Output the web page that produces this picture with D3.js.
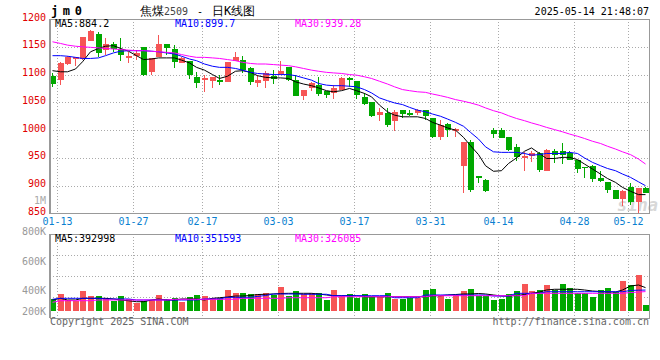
<!DOCTYPE html>
<html><head><meta charset="utf-8">
<script src="https://cdn.jsdelivr.net/npm/d3@7"></script>
<style>body{margin:0;background:#fff}svg{display:block}text{font-family:"DejaVu Sans Mono",monospace}</style>
</head><body><svg id="c" width="660" height="360"></svg>
<script>
const dates = ["01-10","01-13","01-14","01-15","01-16","01-17","01-20","01-21","01-22","01-23","01-24","01-27","02-05","02-06","02-07","02-10","02-11","02-12","02-13","02-14","02-17","02-18","02-19","02-20","02-21","02-24","02-25","02-26","02-27","02-28","03-03","03-04","03-05","03-06","03-07","03-10","03-11","03-12","03-13","03-14","03-17","03-18","03-19","03-20","03-21","03-24","03-25","03-26","03-27","03-28","03-31","04-01","04-02","04-03","04-07","04-08","04-09","04-10","04-11","04-14","04-15","04-16","04-17","04-18","04-21","04-22","04-23","04-24","04-25","04-28","04-29","04-30","05-06","05-07","05-08","05-09","05-12","05-13","05-14"];
const open = [1097,1090,1119,1128,1127,1161,1173,1145,1155,1146,1130,1132,1150,1103,1132,1155,1146,1121,1124,1096,1091,1089,1091,1087,1124,1126,1111,1086,1087,1098,1100,1114,1091,1062,1076,1081,1070,1066,1072,1093,1088,1060,1051,1028,1030,1015,1036,1030,1030,1036,1022,988,1011,999,935,979,917,910,1000,1000,987,970,951,953,958,928,963,963,959,946,934,935,913,907,892,876,897,870,895];
const high = [1103,1122,1133,1132,1168,1181,1176,1165,1159,1165,1141,1145,1150,1129,1171,1155,1153,1132,1124,1105,1099,1096,1099,1123,1141,1133,1114,1099,1106,1108,1125,1114,1099,1072,1086,1096,1070,1081,1096,1096,1088,1067,1051,1039,1039,1036,1037,1036,1038,1037,1022,1018,1012,1004,979,983,918,912,1003,1004,987,975,961,962,960,966,966,977,962,946,934,938,926,907,892,892,905,895,898];
const low = [1078,1081,1117,1115,1127,1160,1132,1135,1141,1125,1120,1127,1097,1100,1132,1135,1111,1121,1092,1076,1069,1075,1081,1087,1124,1102,1081,1078,1076,1083,1100,1088,1062,1055,1071,1062,1058,1056,1072,1077,1056,1045,1023,1016,1006,999,1021,1025,1027,1019,985,982,987,987,886,888,905,888,985,985,962,945,927,943,924,928,940,939,946,922,913,906,907,886,876,864,865,851,886];
const close = [1083,1121,1131,1131,1167,1179,1139,1155,1146,1135,1133,1138,1099,1129,1155,1148,1123,1130,1099,1085,1094,1096,1087,1123,1132,1108,1085,1091,1102,1093,1106,1091,1062,1072,1085,1064,1062,1075,1094,1090,1062,1048,1026,1033,1009,1032,1028,1026,1036,1025,987,1009,1000,1002,979,893,914,891,992,985,964,952,954,958,927,965,955,955,947,930,932,911,907,892,876,891,870,895,886];
const ma5 = [1107,1105,1105,1110,1123,1141,1147,1151,1152,1147,1142,1134,1127,1128,1130,1130,1130,1126,1121,1113,1108,1100,1093,1097,1106,1107,1104,1098,1095,1094,1094,1093,1087,1083,1080,1076,1071,1069,1071,1075,1071,1066,1060,1045,1033,1027,1024,1024,1024,1021,1014,1009,1004,1000,987,972,956,936,926,927,940,950,962,968,958,949,949,951,951,947,939,930,921,913,906,897,890,884,884];
const ma10 = [1134,1134,1133,1131,1129,1129,1130,1134,1139,1142,1143,1143,1143,1142,1141,1139,1137,1133,1128,1125,1119,1115,1113,1113,1111,1108,1104,1102,1101,1100,1100,1100,1098,1094,1090,1084,1081,1080,1080,1079,1078,1073,1067,1058,1053,1049,1046,1041,1036,1033,1029,1025,1020,1014,1007,996,984,970,961,960,960,960,958,955,956,958,958,958,960,958,950,942,936,931,927,921,915,907,900];
const ma30 = [1159,1156,1153,1151,1150,1149,1148,1147,1146,1145,1144,1143,1143,1142,1141,1140,1139,1136,1133,1131,1131,1130,1129,1127,1125,1122,1120,1119,1119,1118,1117,1116,1114,1111,1108,1106,1104,1103,1102,1100,1099,1096,1093,1088,1083,1078,1073,1071,1069,1068,1065,1062,1059,1055,1052,1049,1045,1040,1035,1031,1026,1021,1017,1013,1009,1005,1001,997,993,989,985,980,976,971,966,961,956,948,939];
const volume = [197,286,185,173,336,252,252,213,168,252,197,139,173,185,269,197,223,156,240,269,252,223,213,353,307,307,286,281,307,269,408,252,336,281,307,307,185,353,257,286,223,286,240,230,307,202,202,213,213,353,370,257,202,269,336,370,257,252,185,202,286,336,454,336,353,437,353,454,391,307,297,240,353,391,324,504,437,605,101].map(v=>v*1000);
const vma5 = [185,213,185,185,213,213,213,213,202,185,173,156,156,185,202,185,185,202,202,202,185,213,223,235,252,252,260,277,281,286,294,297,297,297,297,286,269,257,257,257,257,240,240,240,240,240,240,240,240,240,257,257,269,277,286,286,294,286,269,252,252,260,277,297,319,353,365,365,365,365,353,336,328,319,319,353,420,437,393].map(v=>v*1000);
const vma10 = [197,213,213,213,213,213,213,202,202,202,202,185,185,185,185,185,185,185,185,185,202,202,202,230,230,230,230,245,260,286,286,286,286,281,281,281,281,257,257,257,257,257,257,257,257,223,223,223,223,269,269,269,269,269,269,269,269,269,252,252,252,297,297,297,297,324,324,324,324,324,324,324,324,324,324,324,345,350,352].map(v=>v*1000);
const vma30 = [146,173,173,173,173,173,185,185,185,185,185,185,185,185,185,185,197,197,197,197,197,197,197,197,197,213,213,213,213,213,213,223,223,223,223,223,223,240,240,240,240,240,240,240,240,240,240,240,240,240,257,257,257,257,257,257,257,257,257,257,257,257,257,297,297,297,297,297,297,297,297,297,297,297,297,297,310,318,326].map(v=>v*1000);

const priceTicks = [1200,1150,1100,1050,1000,950,900,850];
const volTickLabels = ["800K","600K","400K","200K"];
const dateTickLabels = ["01-13","01-27","02-17","03-03","03-17","03-31","04-14","04-28","05-12"];
const maNames = ["MA5","MA10","MA30"];
const priceMaLast = ["884.2","899.7","939.28"];
const volMaLast = ["392998","351593","326085"];
const maColors = ["#000000","#0000ff","#ff00ff"];

const RED = "#f65555", GREEN = "#00a800", GRID = "#aaaaaa", FRAME = "#999999";
const L = 50, R = 649.5, PT = 19, PB = 213.5, VT = 234, VB = 318, VBASE = 311;
const n = dates.length;
const svg = d3.select("#c");

const x = d3.scaleBand().domain(d3.range(n)).range([49.7, 49.7 + 7.605 * n]);
const y = d3.scaleLinear().domain([850, 1200]).range([PB, PT]);
const yv = d3.scaleLinear().domain([0, 1294000]).range([VBASE, VT]);
const bx = i => Math.round(x(i) + 0.3);
const cx = i => bx(i) + 3;

// gridlines
const grid = svg.append("g").attr("stroke", GRID).attr("stroke-dasharray", "1,2").attr("shape-rendering", "crispEdges");
priceTicks.slice(1, -1).forEach(t => {
  const yy = Math.round(y(t)) + 0.5;
  grid.append("line").attr("x1", L).attr("x2", R).attr("y1", yy).attr("y2", yy);
});
dateTickLabels.forEach(d => {
  const xx = Math.round(x(dates.indexOf(d))) + 0.5;
  grid.append("line").attr("x1", xx).attr("x2", xx).attr("y1", PT).attr("y2", PB);
  grid.append("line").attr("x1", xx).attr("x2", xx).attr("y1", VT).attr("y2", VB);
});
[1, 2, 3].forEach(k => {
  const yy = Math.round(VT + (VB - VT) * k / 4) + 0.5;
  grid.append("line").attr("x1", L).attr("x2", R).attr("y1", yy).attr("y2", yy);
});

// watermark
svg.append("text").attr("x", 617).attr("y", 211).attr("font-family", "DejaVu Sans, sans-serif")
  .attr("font-size", 17).attr("font-weight", "bold").attr("font-style", "italic")
  .attr("fill", "#c8c8c8").attr("opacity", 0.7).text("sina");

// candles
const cg = svg.append("g").attr("shape-rendering", "crispEdges");
const idx = d3.range(n);
cg.selectAll("line.w").data(idx).join("line")
  .attr("x1", i => cx(i) - 0.5).attr("x2", i => cx(i) - 0.5)
  .attr("y1", i => y(high[i])).attr("y2", i => y(low[i]))
  .attr("stroke", i => close[i] >= open[i] ? RED : GREEN);
cg.selectAll("rect.b").data(idx).join("rect")
  .attr("x", bx).attr("width", 6)
  .attr("y", i => Math.round(y(Math.max(open[i], close[i]))))
  .attr("height", i => Math.max(1, Math.round(Math.abs(y(open[i]) - y(close[i])))))
  .attr("fill", i => close[i] >= open[i] ? RED : GREEN);

// MA lines
const lineP = d3.line().x((v, i) => cx(i) - 0.5).y(v => y(v));
[ma5, ma10, ma30].forEach((arr, k) => {
  svg.append("path").attr("d", lineP(arr)).attr("fill", "none")
    .attr("stroke", maColors[k]).attr("stroke-width", 1);
});

// volume bars
const vg = svg.append("g").attr("shape-rendering", "crispEdges");
vg.selectAll("rect").data(idx).join("rect")
  .attr("x", bx).attr("width", 6)
  .attr("y", i => Math.round(yv(volume[i])))
  .attr("height", i => VBASE - Math.round(yv(volume[i])))
  .attr("fill", i => close[i] >= open[i] ? RED : GREEN);
const lineV = d3.line().x((v, i) => cx(i) - 0.5).y(v => yv(v));
[vma5, vma10, vma30].forEach((arr, k) => {
  svg.append("path").attr("d", lineV(arr)).attr("fill", "none")
    .attr("stroke", maColors[k]).attr("stroke-width", 1);
});

// frames
const fr = svg.append("g").attr("stroke", FRAME).attr("fill", "none").attr("shape-rendering", "crispEdges");
fr.append("line").attr("x1", L).attr("x2", R).attr("y1", PT + 0.5).attr("y2", PT + 0.5);
fr.append("line").attr("x1", L).attr("x2", R).attr("y1", PB).attr("y2", PB);
fr.append("line").attr("x1", R).attr("x2", R).attr("y1", PT).attr("y2", PB);
fr.append("line").attr("x1", L).attr("x2", L).attr("y1", PT).attr("y2", PB).attr("stroke-width", 2);
fr.append("line").attr("x1", L).attr("x2", R).attr("y1", VT + 0.5).attr("y2", VT + 0.5);
fr.append("line").attr("x1", L).attr("x2", R).attr("y1", VB + 0.5).attr("y2", VB + 0.5);
fr.append("line").attr("x1", R).attr("x2", R).attr("y1", VT).attr("y2", VB);
fr.append("line").attr("x1", L).attr("x2", L).attr("y1", VT).attr("y2", VB).attr("stroke-width", 2);

// price axis labels
svg.append("g").selectAll("text").data(priceTicks).join("text")
  .attr("x", 46).attr("y", t => y(t) + 1.5).attr("text-anchor", "end")
  .attr("font-size", 10).attr("fill", "#e00000").text(t => t);
svg.append("text").attr("x", 46).attr("y", 203.5).attr("text-anchor", "end")
  .attr("font-size", 10).attr("fill", "#aaaaaa").text("1M");
// volume axis labels
const volLabelY = d3.scaleLinear().domain([0, 1, 2, 3]).range([234.5, 264.5, 294.2, 314.5]);
svg.append("g").selectAll("text").data(volTickLabels).join("text")
  .attr("x", 46).attr("y", (d, i) => volLabelY(i)).attr("text-anchor", "end")
  .attr("font-size", 10).attr("fill", "#999999").text(d => d);
// date labels
svg.append("g").selectAll("text").data(dateTickLabels).join("text")
  .attr("x", d => Math.round(x(dates.indexOf(d))) + 0.5).attr("y", 225).attr("text-anchor", "middle")
  .attr("font-size", 10).attr("fill", "#0a7fd0").text(d => d);

// legends
const legX = [55, 175, 295];
maNames.forEach((nm, k) => {
  svg.append("text").attr("x", legX[k]).attr("y", 27).attr("font-size", 10).attr("fill", maColors[k]).text(nm + ":" + priceMaLast[k]);
  svg.append("text").attr("x", legX[k]).attr("y", 241.5).attr("font-size", 10).attr("fill", maColors[k]).text(nm + ":" + volMaLast[k]);
});

// header
svg.append("text").attr("x", 51).attr("y", 15).attr("font-size", 12).attr("font-weight", "bold")
  .attr("letter-spacing", 4.6).attr("fill", "#000").text("jm0");
const cjk = '"Noto Sans CJK SC", sans-serif';
svg.append("text").attr("x", 140).attr("y", 15).attr("font-size", 12).attr("font-family", cjk).attr("fill", "#000").text("焦煤");
svg.append("text").attr("x", 164).attr("y", 15).attr("font-size", 10).attr("fill", "#444").text("2509");
svg.append("text").attr("x", 197).attr("y", 15).attr("font-size", 10).attr("fill", "#000").text("-");
svg.append("text").attr("x", 212).attr("y", 15).attr("font-size", 12).attr("font-family", cjk).attr("fill", "#000").text("日K线图");
svg.append("text").attr("x", 649).attr("y", 15).attr("text-anchor", "end").attr("font-size", 10).attr("fill", "#000").text("2025-05-14 21:48:07");

// footer
svg.append("text").attr("x", 50).attr("y", 325).attr("font-size", 10).attr("fill", "#666").text("Copyright 2025 SINA.COM");
svg.append("text").attr("x", 649).attr("y", 325).attr("text-anchor", "end").attr("font-size", 10).attr("fill", "#666").text("http://finance.sina.com.cn");
</script></body></html>
